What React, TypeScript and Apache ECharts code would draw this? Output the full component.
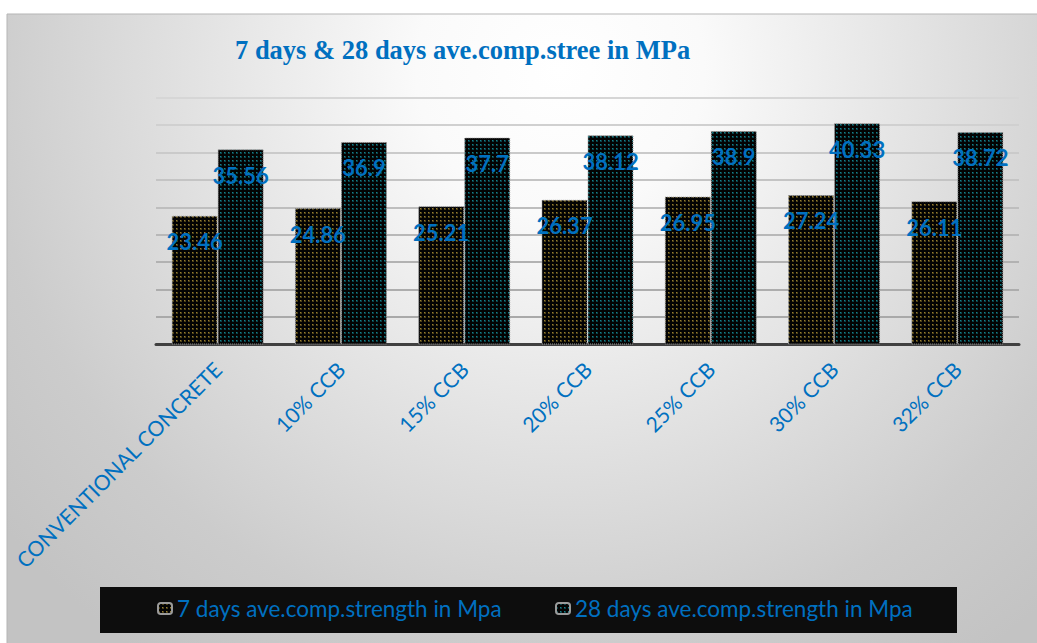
import React, { useEffect, useRef } from "react";
import * as echarts from "echarts";

// Mix designs along the x axis
const categories = [
  "CONVENTIONAL CONCRETE",
  "10% CCB",
  "15% CCB",
  "20% CCB",
  "25% CCB",
  "30% CCB",
  "32% CCB",
];

// Average compressive strength (MPa)
const strength7Days = [23.46, 24.86, 25.21, 26.37, 26.95, 27.24, 26.11];
const strength28Days = [35.56, 36.9, 37.7, 38.12, 38.9, 40.33, 38.72];

const seriesNames = [
  "7 days ave.comp.strength in Mpa",
  "28 days ave.comp.strength in Mpa",
];

const titleText = "7 days & 28 days ave.comp.stree in MPa";

const yMin = 0;
const yMax = 45;
const yStep = 5;

const BLUE = "#0070C0";
const SANS = "Lato, 'Liberation Sans', sans-serif";

// Dotted tile used as a pattern fill on the bars: a small dot every 4px
function dotTile(dot: string, edge: string): string {
  const px = (x: number, y: number, c: string) =>
    `<rect x='${x}' y='${y}' width='1' height='1' fill='${c}'/>`;
  const svg =
    `<svg xmlns='http://www.w3.org/2000/svg' width='4' height='4' shape-rendering='crispEdges'>` +
    `<rect width='4' height='4' fill='#030303'/>` +
    px(0, 0, dot) +
    px(1, 0, edge) +
    px(0, 1, edge) +
    px(1, 1, edge) +
    `</svg>`;
  return "data:image/svg+xml;charset=utf-8," + encodeURIComponent(svg);
}

const goldPattern = {
  image: dotTile("#967c30", "#4a3e16"),
  repeat: "repeat",
  imageWidth: 4,
  imageHeight: 4,
};
const tealPattern = {
  image: dotTile("#15808a", "#0a4046"),
  repeat: "repeat",
  imageWidth: 4,
  imageHeight: 4,
};

export default function App() {
  const ref = useRef<HTMLDivElement>(null);

  useEffect(() => {
    if (!ref.current) return;
    const chart = echarts.init(ref.current, undefined, { renderer: "svg" });

    const barLabel = {
      show: true,
      position: "insideTop",
      distance: 15,
      color: BLUE,
      fontSize: 22,
      fontWeight: "bold",
      fontFamily: SANS,
    };

    const legendCommon = {
      orient: "horizontal",
      top: 597,
      padding: 0,
      itemWidth: 14,
      itemHeight: 11,
      itemGap: 0,
      textStyle: { color: BLUE, fontSize: 22.5, fontFamily: SANS },
      selectedMode: false,
    };

    chart.setOption({
      animation: false,
      backgroundColor: "#ffffff",
      title: {
        text: titleText,
        left: 235,
        top: 36,
        padding: 0,
        textStyle: {
          color: BLUE,
          fontSize: 26.5,
          fontWeight: "bold",
          fontFamily: "'Liberation Serif', 'Times New Roman', serif",
        },
      },
      graphic: {
        elements: [
          {
            type: "rect",
            z: -100,
            silent: true,
            shape: { x: 7, y: 14, width: 1040, height: 640 },
            style: {
              fill: {
                type: "radial",
                x: 560,
                y: 70,
                r: 720,
                global: true,
                colorStops: [
                  { offset: 0, color: "#ffffff" },
                  { offset: 0.2, color: "#fafafa" },
                  { offset: 0.55, color: "#dfdfdf" },
                  { offset: 0.8, color: "#cccccc" },
                  { offset: 1, color: "#c3c3c3" },
                ],
              },
              stroke: "#b5b5b5",
              lineWidth: 1,
            },
          },
          {
            type: "rect",
            z: -90,
            silent: true,
            shape: { x: 100, y: 587, width: 857, height: 46 },
            style: { fill: "#0d0d0d" },
          },
        ],
      },
      legend: [
        { ...legendCommon, left: 157, data: [seriesNames[0]] },
        { ...legendCommon, left: 555, data: [seriesNames[1]] },
      ],
      grid: {
        left: 156,
        right: 18,
        top: 97.5,
        bottom: 298.5,
        containLabel: false,
        outerBoundsMode: "none",
      },
      xAxis: {
        type: "category",
        data: categories,
        axisLine: { show: true, lineStyle: { color: "#404040", width: 3 } },
        axisTick: { show: false },
        axisLabel: {
          interval: 0,
          rotate: 45,
          margin: 21,
          color: BLUE,
          fontSize: 21,
          fontFamily: SANS,
        },
      },
      yAxis: {
        type: "value",
        min: yMin,
        max: yMax,
        interval: yStep,
        axisLine: { show: false },
        axisTick: { show: false },
        axisLabel: { show: false },
        splitLine: {
          show: true,
          lineStyle: {
            width: 2,
            color: [
              "#a6a6a6",
              "#a9a9a9",
              "#adadad",
              "#b2b2b2",
              "#b8b8b8",
              "#bebebe",
              "#c4c4c4",
              "#cacaca",
              "#d0d0d0",
              "#d6d6d6",
            ],
          },
        },
      },
      series: [
        {
          name: seriesNames[0],
          type: "bar",
          data: strength7Days,
          barWidth: 46,
          barGap: "0%",
          itemStyle: {
            color: goldPattern,
            borderColor: "#9a9a9a",
            borderWidth: 1,
            borderType: "dotted",
          },
          label: barLabel,
        },
        {
          name: seriesNames[1],
          type: "bar",
          data: strength28Days,
          barWidth: 46,
          barGap: "0%",
          itemStyle: {
            color: tealPattern,
            borderColor: "#9a9a9a",
            borderWidth: 1,
            borderType: "dotted",
          },
          label: barLabel,
        },
      ],
    });

    return () => chart.dispose();
  }, []);

  return (
    <div
      ref={ref}
      style={{ position: "fixed", left: 0, top: 0, width: 1037, height: 643 }}
    />
  );
}
